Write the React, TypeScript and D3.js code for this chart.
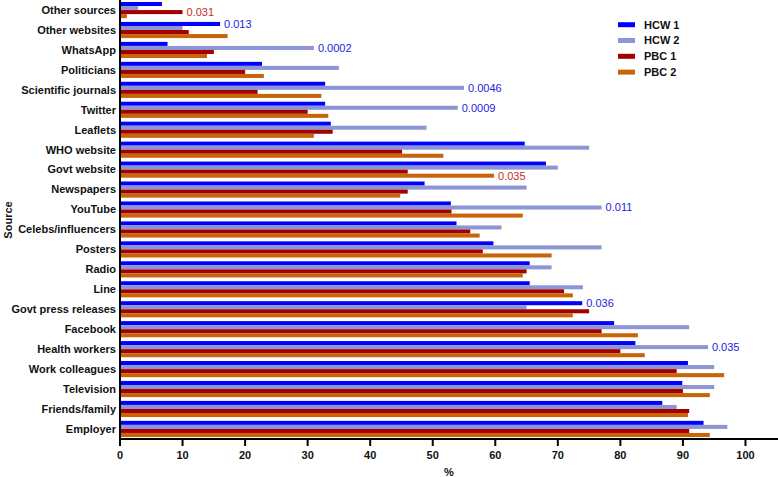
import React from "react";
import * as d3 from "d3";

const categories = [
  "Other sources", "Other websites", "WhatsApp", "Politicians", "Scientific journals",
  "Twitter", "Leaflets", "WHO website", "Govt website", "Newspapers", "YouTube",
  "Celebs/influencers", "Posters", "Radio", "Line", "Govt press releases", "Facebook",
  "Health workers", "Work colleagues", "Television", "Friends/family", "Employer",
];
const seriesNames = ["HCW 1", "HCW 2", "PBC 1", "PBC 2"];
const hcw1 = [6.7, 16.0, 7.6, 22.7, 32.8, 32.8, 33.7, 64.7, 68.1, 48.7, 52.9, 53.8, 59.7, 65.5, 65.5, 73.9, 79.0, 82.4, 90.8, 89.9, 86.7, 93.3];
const hcw2 = [2.9, 10.0, 31.0, 35.0, 55.0, 54.0, 49.0, 75.0, 70.0, 65.0, 77.0, 61.0, 77.0, 69.0, 74.0, 65.0, 91.0, 94.0, 95.0, 95.0, 89.0, 97.1];
const pbc1 = [10.0, 11.0, 15.0, 20.0, 22.0, 30.0, 34.0, 45.1, 46.0, 46.0, 53.0, 56.0, 58.0, 65.0, 71.0, 75.0, 77.0, 80.0, 89.0, 90.0, 91.0, 91.0];
const pbc2 = [1.1, 17.2, 13.9, 23.0, 32.2, 33.3, 31.0, 51.7, 59.8, 44.8, 64.4, 57.5, 69.0, 64.4, 72.4, 72.4, 82.8, 83.9, 96.6, 94.3, 90.8, 94.3];
const seriesValues = [hcw1, hcw2, pbc1, pbc2];
const colors = ["#0000ff", "#8e95d4", "#a30000", "#c8650a"];
const xTicks = [0, 10, 20, 30, 40, 50, 60, 70, 80, 90, 100];

// p-value annotations: category, series index, text
const pCats = ["Other sources", "Other websites", "WhatsApp", "Scientific journals", "Twitter", "Govt website", "YouTube", "Govt press releases", "Health workers"];
const pSeries = [2, 0, 1, 1, 1, 3, 1, 0, 1];
const pTexts = ["0.031", "0.013", "0.0002", "0.0046", "0.0009", "0.035", "0.011", "0.036", "0.035"];
const pColors = ["#c42b2b", "#2323e0"];

const W = 778, H = 477;
const left = 120, right = 778, top = 0, bottom = 439;

export default function App() {
  const x = d3.scaleLinear().domain([0, 105.2]).range([left, right]);
  const y = d3.scaleBand().domain(categories).range([top, bottom]).paddingInner(0.19).paddingOuter(0.1);
  const ys = d3.scaleBand().domain(seriesNames).range([0, y.bandwidth()]);
  const font = "'Liberation Sans', Arial, sans-serif";

  return (
    <svg width={W} height={H} style={{ position: "absolute", left: 0, top: 0, background: "#fff" }} fontFamily={font}>
      {categories.map((c, i) => (
        <g key={c}>
          {seriesNames.map((s, k) => (
            <rect key={s} x={x(0)} y={(y(c) as number) + (ys(s) as number)} width={x(seriesValues[k][i]) - x(0)} height={ys.bandwidth()} fill={colors[k]} />
          ))}
          <text x={left - 4} y={(y(c) as number) + y.bandwidth() / 2} dy="0.35em" textAnchor="end" fontSize={11} fontWeight="bold" fill="#111">{c}</text>
        </g>
      ))}
      {pCats.map((c, j) => {
        const i = categories.indexOf(c);
        const k = pSeries[j];
        const v = seriesValues[k][i];
        return (
          <text key={j} x={x(v) + 4} y={(y(c) as number) + (ys(seriesNames[k]) as number) + ys.bandwidth() / 2} dy="0.35em" fontSize={11} fill={k >= 2 ? pColors[0] : pColors[1]}>{pTexts[j]}</text>
        );
      })}
      {/* axes */}
      <line x1={left} x2={left} y1={0} y2={bottom + 1} stroke="#000" strokeWidth={2} />
      <line x1={left - 1} x2={right} y1={bottom} y2={bottom} stroke="#000" strokeWidth={2} />
      {xTicks.map((t) => (
        <g key={t}>
          <line x1={x(t)} x2={x(t)} y1={bottom} y2={bottom + 7} stroke="#000" strokeWidth={2} />
          <text x={x(t)} y={455} dy="0.35em" textAnchor="middle" fontSize={11} fontWeight="bold" fill="#111">{t}</text>
        </g>
      ))}
      <text x={(left + right) / 2} y={472} dy="0.35em" textAnchor="middle" fontSize={11} fontWeight="bold" fill="#111">%</text>
      <text transform={`translate(8,${220}) rotate(-90)`} textAnchor="middle" dy="0.35em" fontSize={11} fontWeight="bold" fill="#111">Source</text>
      {/* legend */}
      {seriesNames.map((s, k) => (
        <g key={s} transform={`translate(618,${24.7 + k * 15.8})`}>
          <rect x={0} y={-2.5} width={17} height={5} fill={colors[k]} />
          <text x={26} y={0} dy="0.35em" fontSize={11} fontWeight="bold" fill="#111">{s}</text>
        </g>
      ))}
    </svg>
  );
}
